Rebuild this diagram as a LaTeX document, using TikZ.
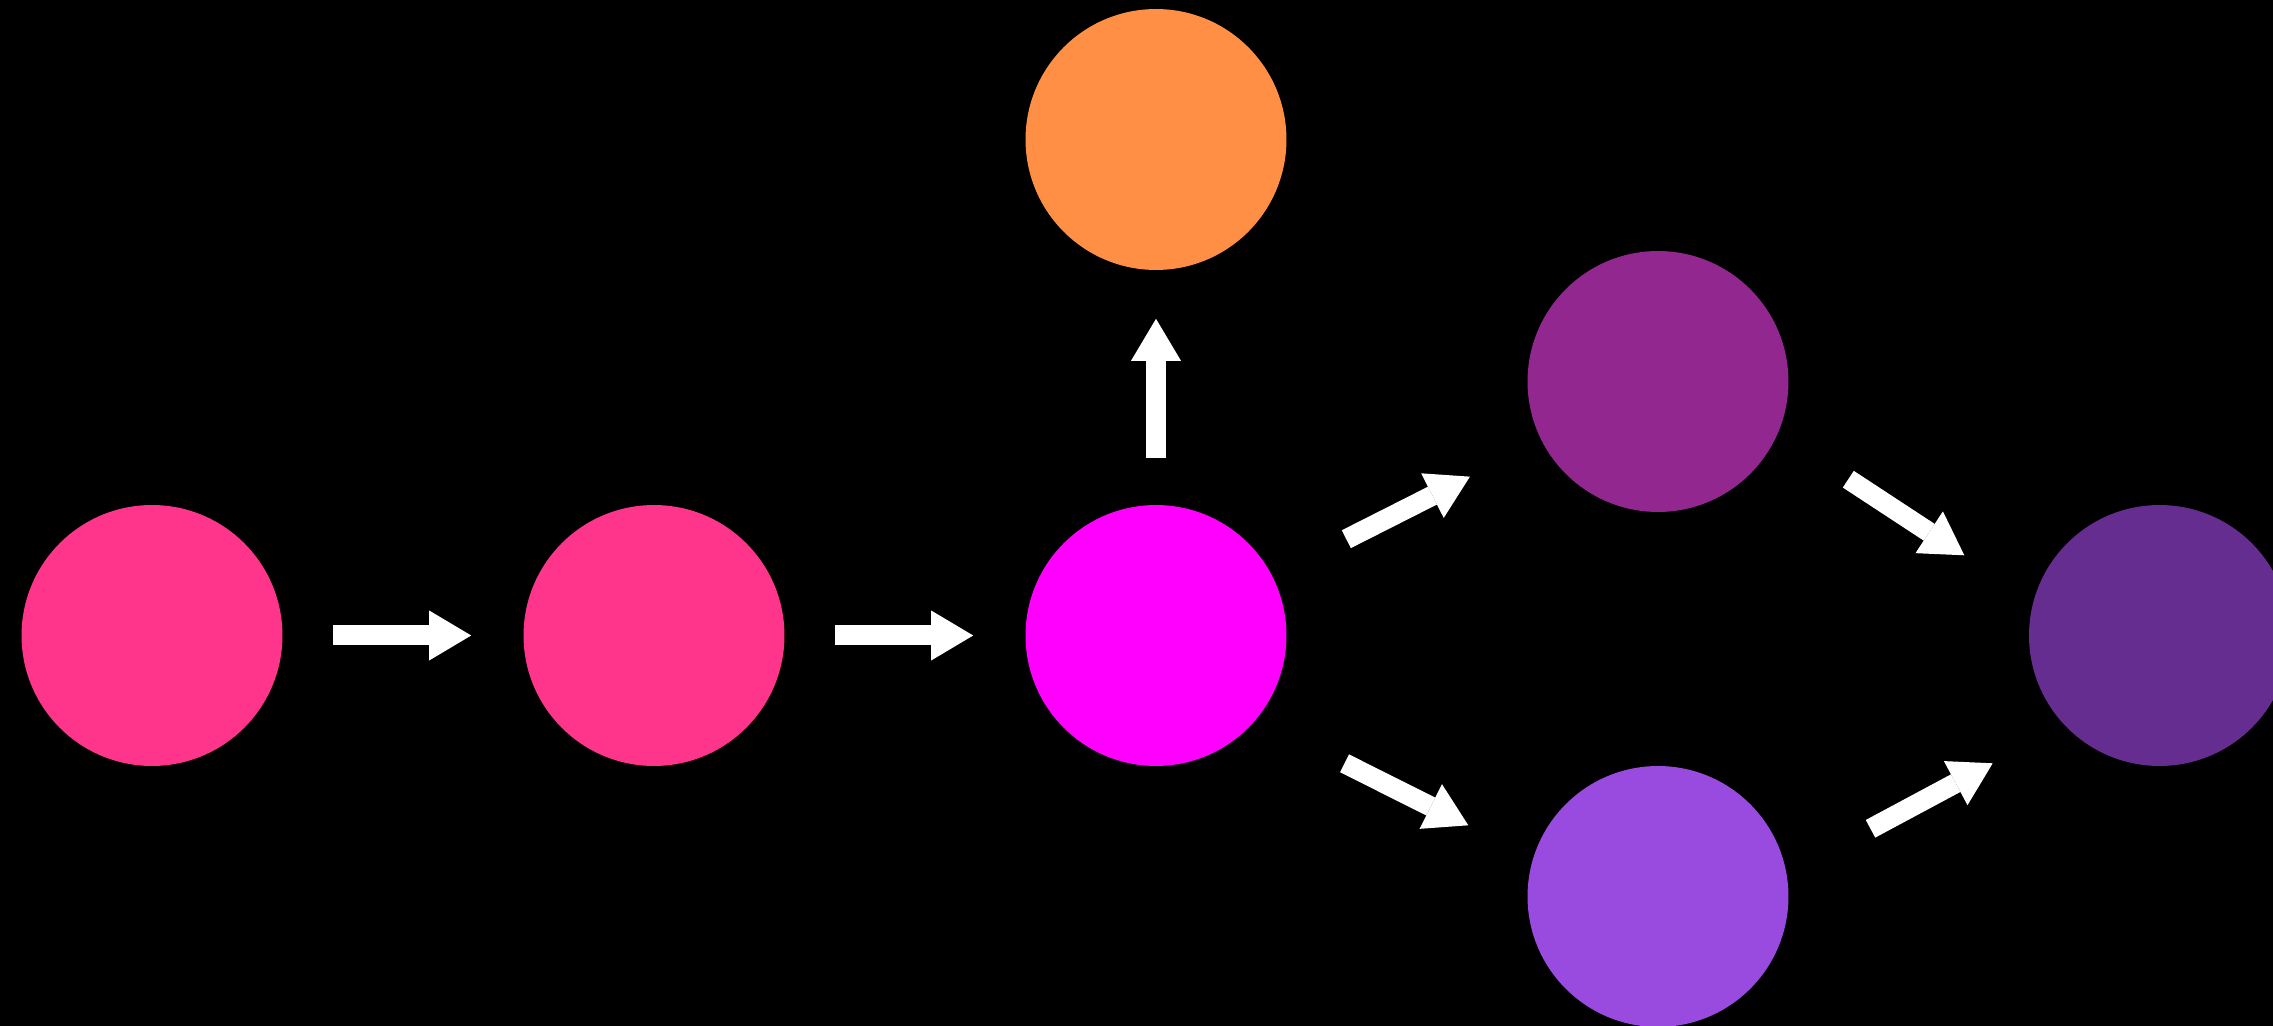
\documentclass[tikz,border=0pt]{standalone}
\usetikzlibrary{arrows.meta}
\definecolor{pinkA}{HTML}{FF358B}
\definecolor{magentaA}{HTML}{FF00FF}
\definecolor{orangeA}{HTML}{FF8F45}
\definecolor{purpleA}{HTML}{92278F}
\definecolor{violetA}{HTML}{9A4BDF}
\definecolor{grapeA}{HTML}{662D91}

\begin{document}
\begin{tikzpicture}[x=.02cm,y=-.02cm,
  ball/.style={circle,minimum size=5.22cm,inner sep=0pt,fill=#1},
  flow/.style={white,line width=.4cm,
    -{Triangle[width=1cm,length=.84cm,line width=0pt]}}]
  \fill[black] (0,0) rectangle (2273,1026);
  \clip (0,0) rectangle (2273,1026);
  % the dots
  \node[ball=pinkA] (start) at (152,635.5) {};
  \node[ball=pinkA] (prep) at (654,635.5) {};
  \node[ball=magentaA] (hub) at (1156,635.5) {};
  \node[ball=orangeA] (top) at (1156,139.5) {};
  \node[ball=purpleA] (upper) at (1658,381.5) {};
  \node[ball=violetA] (lower) at (1658,896.5) {};
  \node[ball=grapeA] (finish) at (2159.5,635.5) {};
  % free ends of the right hand arrows
  \coordinate (tl) at (1344.5,763.3);  \coordinate (hl) at (1468.3,825.3);
  \coordinate (tu) at (1848.3,479.2);  \coordinate (hu) at (1964.3,555.3);
  \coordinate (tf) at (1870.5,828.8);  \coordinate (hf) at (1992.7,763.3);
  % arrows
  \draw[flow,shorten <=1cm,shorten >=1.04cm] (start) -- (prep);
  \draw[flow,shorten <=1cm,shorten >=1.04cm] (prep) -- (hub);
  \draw[flow,shorten <=.93cm,shorten >=.97cm] (hub) -- (top);
  \draw[flow,shorten <=1.65cm,shorten >=1.6cm] (hub) -- (upper);
  \draw[flow] (tl) -- (hl);
  \draw[flow] (tu) -- (hu);
  \draw[flow] (tf) -- (hf);
\end{tikzpicture}
\end{document}
